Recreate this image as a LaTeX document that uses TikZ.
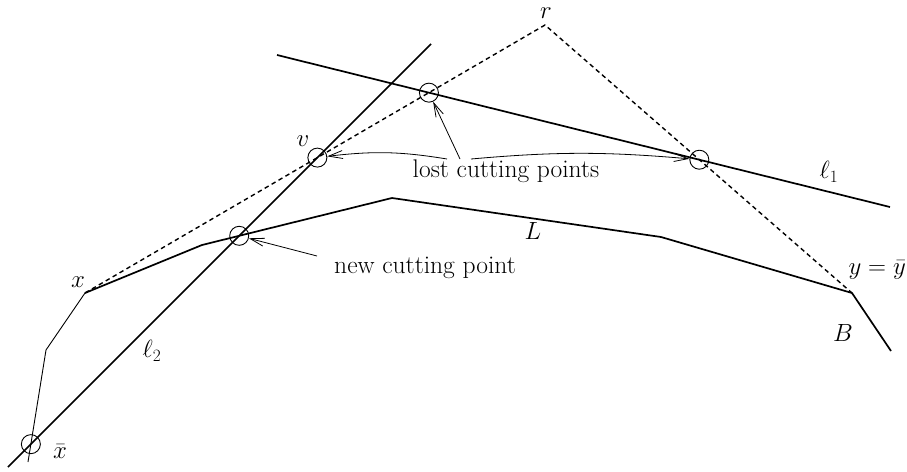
\documentclass[tikz,border=0pt]{standalone}
\usetikzlibrary{arrows.meta}
\begin{document}
\begin{tikzpicture}[x=1pt,y=-1pt,
  thickline/.style={line width=1.7pt},
  thinline/.style={line width=0.9pt},
  dashline/.style={line width=1.4pt,dash pattern=on 4.5pt off 3.5pt},
  ring/.style={circle,draw,line width=0.9pt,minimum size=19pt,inner sep=0pt},
  lbl/.style={font=\fontsize{25.5}{30}\selectfont,inner sep=0pt},
  pointer/.style={line width=0.8pt,-{Straight Barb[length=14pt,width=8pt,line width=0.8pt]}}]
\useasboundingbox (0,0) rectangle (907,471);
% key points
\coordinate (l2a) at (8,467);
\coordinate (l2b) at (431,44);
\coordinate (l1a) at (277,55);
\coordinate (l1b) at (890,207);
\coordinate (X) at (85,293);
\coordinate (r) at (545,25);
\coordinate (Y) at (852,293);
\coordinate (Bend) at (891,351);
\coordinate (L1) at (202,245);
\coordinate (L2) at (392,198);
\coordinate (L3) at (661,237);
\coordinate (t0) at (28,462);
\coordinate (t1) at (46,350);
% intersections
\coordinate (v) at (intersection of l2a--l2b and X--r);
\coordinate (p1) at (intersection of l1a--l1b and X--r);
\coordinate (p2) at (intersection of l1a--l1b and r--Y);
\coordinate (nc) at (intersection of l2a--l2b and L1--L2);
\coordinate (xb) at (intersection of l2a--l2b and t0--t1);
% lines
\draw[thickline] (l2a) -- (l2b);
\draw[thickline] (l1a) -- (l1b);
\draw[thickline,line join=round] (X) -- (L1) -- (L2) -- (L3) -- (Y) -- (Bend);
\draw[dashline] (X) -- (r) -- (Y);
\draw[thinline] (t0) -- (t1) -- (X);
% circles
\node[ring] (vc) at (v) {};
\node[ring] (p1c) at (p1) {};
\node[ring] (p2c) at (p2) {};
\node[ring] (ncc) at (nc) {};
\node[ring] (xbc) at (xb) {};
% labels
\node[lbl] (lx) at (78,282) {$x$};
\node[lbl] (lv) at (303,141) {$v$};
\node[lbl] (lr) at (546,13) {$r$};
\node[lbl] (ll1) at (829,172) {$\ell_1$};
\node[lbl] (ll2) at (152,351) {$\ell_2$};
\node[lbl] (lL) at (533,231) {$L$};
\node[lbl,anchor=east] (ly) at (906,270) {$y=\bar y$};
\node[lbl] (lB) at (843,333) {$B$};
\node[lbl] (lxb) at (60,452) {$\bar x$};
\node[lbl] (lcp) at (506,171) {lost cutting points};
\node[lbl] (ncp) at (425,268) {new cutting point};
% arrows
\coordinate (s1) at (447,159);
\coordinate (s2) at (460,159);
\coordinate (s3) at (471,159);
\coordinate (s4) at (317,256);
\draw[pointer] (s1) to[bend right=8] (vc);
\draw[pointer] (s2) -- (p1c);
\draw[pointer] (s3) to[bend left=5] (p2c);
\draw[pointer] (s4) -- (ncc);
\end{tikzpicture}
\end{document}
